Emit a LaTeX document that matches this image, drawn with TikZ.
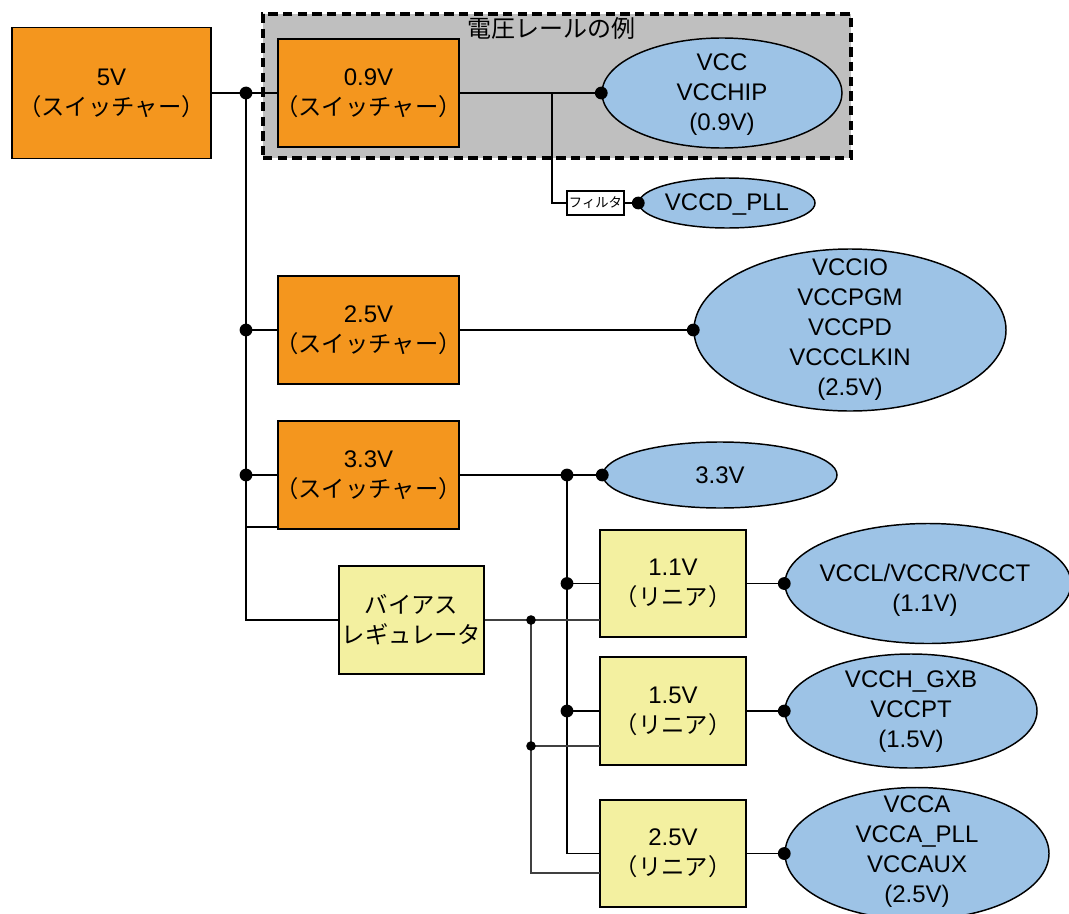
\documentclass[tikz,border=0pt]{standalone}
\usepackage{fontspec}
\setmainfont{Liberation Sans}
\newfontfamily\cjk{Noto Sans CJK JP}
\usetikzlibrary{shapes.geometric,calc}
\definecolor{swor}{RGB}{244,150,30}
\definecolor{railc}{RGB}{157,195,230}
\definecolor{linc}{RGB}{243,240,160}
\definecolor{grpc}{RGB}{191,191,191}
\newcommand\jtxt[1]{{\cjk\fontsize{17.5}{22.5}\selectfont #1}}
\newcommand\jsw{\makebox[0pt]{\jtxt{（スイッチャー）}}}
\newcommand\jdot[2][4.8pt]{\fill (#2) circle[radius=#1];}
\begin{document}
\begin{tikzpicture}[x=0.75pt,y=-0.75pt,
  lat/.style={font=\fontsize{18}{22.5}\selectfont},
  boxbase/.style={draw=black,line width=1.4pt,inner sep=0pt,align=center,lat},
  sw/.style={boxbase,fill=swor},
  lin/.style={boxbase,fill=linc},
  rail/.style={ellipse,draw=black,line width=1.1pt,fill=railc,inner sep=0pt},
  railtxt/.style={align=center,lat,inner sep=0pt},
  wire/.style={line width=1.3pt},
  thinw/.style={line width=0.8pt,draw=black!75},
  grp/.style={draw=black,fill=grpc,line width=2.4pt,dash pattern=on 7pt off 4pt}]
\useasboundingbox (0,0) rectangle (1069,913);
% group
\node[grp,minimum width=588*0.75pt,minimum height=144*0.75pt] (grp) at (557,86) {};
\node[font={\cjk\fontsize{18}{20}\selectfont},inner sep=0pt] (grptitle) at (551,28) {電圧レールの例};
% boxes
\node[sw,minimum width=199*0.75pt,minimum height=131*0.75pt] (b5) at (111.5,93) {5V\\\jsw};
\node[sw,minimum width=181*0.75pt,minimum height=108*0.75pt] (b09) at (368.5,93) {0.9V\\\jsw};
\node[sw,minimum width=181*0.75pt,minimum height=108*0.75pt] (s25) at (368.5,330) {2.5V\\\jsw};
\node[sw,minimum width=181*0.75pt,minimum height=108*0.75pt] (s33) at (368.5,475) {3.3V\\\jsw};
\node[lin,minimum width=145*0.75pt,minimum height=108*0.75pt] (bias) at (411.5,620) {\jtxt{バイアス}\\\jtxt{レギュレータ}};
\node[lin,minimum width=146*0.75pt,minimum height=107*0.75pt] (l11) at (673,583.5) {1.1V\\\jtxt{（リニア）}};
\node[lin,minimum width=146*0.75pt,minimum height=108*0.75pt] (l15) at (673,711) {1.5V\\\jtxt{（リニア）}};
\node[lin,minimum width=146*0.75pt,minimum height=107*0.75pt] (l25) at (673,853.5) {2.5V\\\jtxt{（リニア）}};
\node[draw=black,line width=0.8pt,fill=white,minimum width=57*0.75pt,minimum height=24*0.75pt,inner sep=0pt,font={\cjk\fontsize{10}{11}\selectfont}] (filt) at (595.5,203) {フィルタ};
% rails
\node[rail,minimum width=240*0.75pt,minimum height=110*0.75pt] (vcc) at (722,93) {};
\node[railtxt] (vcct) at (722,95) {VCC\\VCCHIP\\(0.9V)};
\node[rail,minimum width=176*0.75pt,minimum height=50*0.75pt] (vccd) at (727,203) {};
\node[railtxt] (vccdt) at (727,205) {VCCD\_PLL};
\node[rail,minimum width=312*0.75pt,minimum height=162*0.75pt] (vio) at (850,330) {};
\node[railtxt] (viot) at (850,330) {VCCIO\\VCCPGM\\VCCPD\\VCCCLKIN\\(2.5V)};
\node[rail,minimum width=234*0.75pt,minimum height=66*0.75pt] (v33) at (720,475) {};
\node[railtxt] (v33t) at (720,475) {3.3V};
\node[rail,minimum width=286*0.75pt,minimum height=120*0.75pt] (vl) at (928,583.5) {};
\node[railtxt] (vlt) at (925,590) {VCCL/VCCR/VCCT\\(1.1V)};
\node[rail,minimum width=252*0.75pt,minimum height=114*0.75pt] (vh) at (911,711) {};
\node[railtxt] (vht) at (911,712) {VCCH\_GXB\\VCCPT\\(1.5V)};
\node[rail,minimum width=264*0.75pt,minimum height=132*0.75pt] (va) at (917,853.5) {};
\node[railtxt] (vat) at (917,852) {VCCA\\VCCA\_PLL\\VCCAUX\\(2.5V)};
% junction coordinates
\coordinate (j0) at (246,93);
\coordinate (j25) at (246,330);
\coordinate (j33) at (246,475);
\coordinate (jf) at (552,93);
\coordinate (j3) at (567,475);
\coordinate (j11) at (567,583.5);
\coordinate (j15) at (567,711);
\coordinate (jb) at (531,620);
\coordinate (jb15) at (531,746);
\coordinate (t11) at (600,620);
\coordinate (t15) at (600,746);
\coordinate (t25) at (600,873);
\coordinate (s33c) at (278,527);
% wires
\draw[wire] (b5.east) -- (b09.west);
\draw[wire] (j0) |- (bias.west);
\draw[wire] (j25) -- (s25.west);
\draw[wire] (j33) -- (s33.west);
\draw[wire] (j33) |- (s33c);
\draw[wire] (b09.east) -- (vcc.west);
\draw[wire] (jf) |- (filt.west);
\draw[wire] (filt.east) -- (vccd.west);
\draw[wire] (s25.east) -- (vio.west);
\draw[wire] (s33.east) -- (v33.west);
\draw[wire] (j3) |- (l25.west);
\draw[wire] (j11) -- (l11.west);
\draw[wire] (j15) -- (l15.west);
\draw[wire] (l11.east) -- (vl.west);
\draw[wire] (l15.east) -- (vh.west);
\draw[wire] (l25.east) -- (va.west);
\draw[thinw] (bias.east) -- (t11);
\draw[thinw] (jb) |- (t25);
\draw[thinw] (jb15) -- (t15);
% dots
\jdot{j0}\jdot{j25}\jdot{j33}\jdot{j3}\jdot{j11}\jdot{j15}
\jdot{vcc.west}\jdot{vccd.west}\jdot{vio.west}\jdot{v33.west}
\jdot{vl.west}\jdot{vh.west}\jdot{va.west}
\jdot[3.6pt]{jb}\jdot[3.6pt]{jb15}
\end{tikzpicture}
\end{document}
